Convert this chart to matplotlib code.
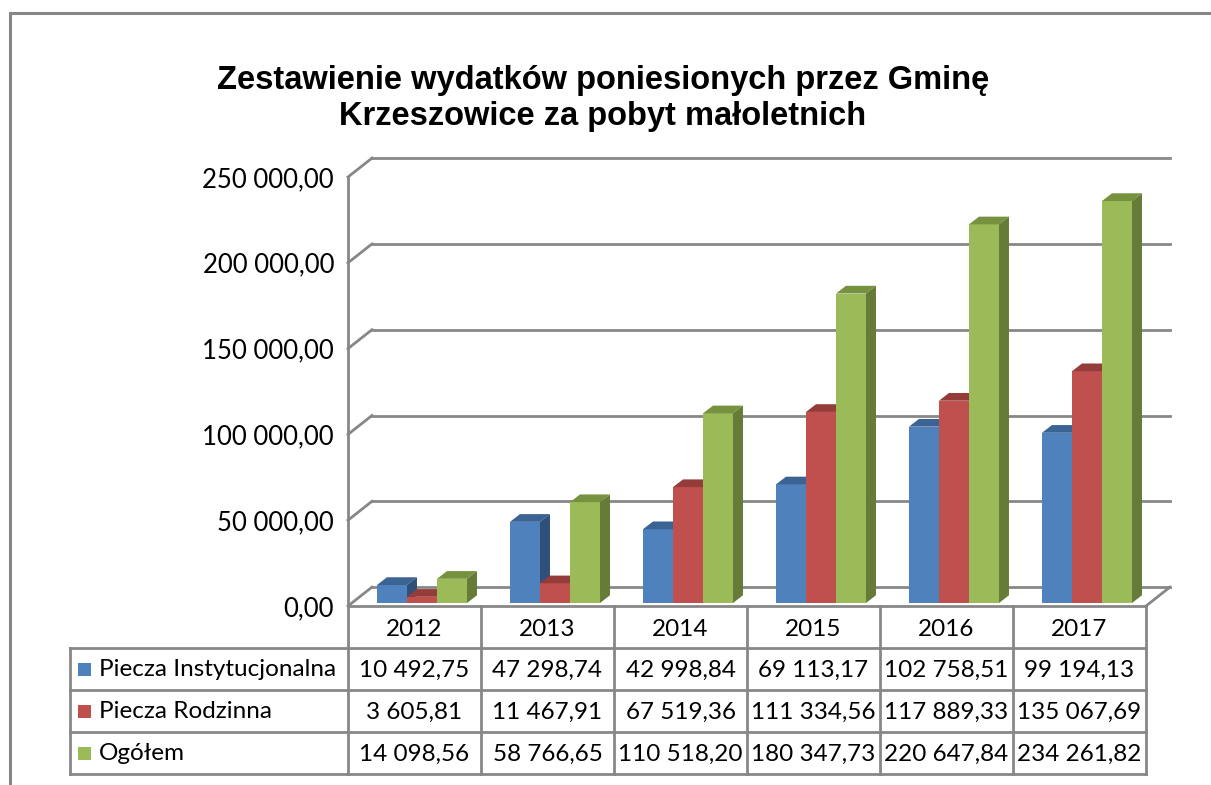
import matplotlib
matplotlib.use("Agg")
import matplotlib.pyplot as plt
from matplotlib import font_manager
from matplotlib.patches import Polygon, Rectangle

# data
years = ["2012", "2013", "2014", "2015", "2016", "2017"]
series_names = ["Piecza Instytucjonalna", "Piecza Rodzinna", "Ogółem"]
instytucjonalna = [10492.75, 47298.74, 42998.84, 69113.17, 102758.51, 99194.13]
rodzinna = [3605.81, 11467.91, 67519.36, 111334.56, 117889.33, 135067.69]
ogolem = [14098.56, 58766.65, 110518.20, 180347.73, 220647.84, 234261.82]
y_ticks = [0, 50000, 100000, 150000, 200000, 250000]

title_lines = ["Zestawienie wydatków poniesionych przez Gminę",
               "Krzeszowice za pobyt małoletnich"]

front_cols = ["#4F81BD", "#C0504D", "#9BBB59"]
top_cols = ["#3B6393", "#943C3A", "#77923F"]
side_cols = ["#2F5079", "#7E3230", "#657B37"]
grid_col = "#878787"

installed = {f.name for f in font_manager.fontManager.ttflist}
title_font = "Liberation Sans Narrow" if "Liberation Sans Narrow" in installed else "Liberation Sans"
body_font = "Lato"


def fmt(v, dec=2):
    s = f"{v:,.{dec}f}"
    return s.replace(",", " ").replace(".", ",")


W, H = 1211, 785
fig = plt.figure(figsize=(W / 100, H / 100), dpi=100, facecolor="white")

# background axes in pixel coords for frame + table
bg = fig.add_axes([0, 0, 1, 1])
bg.set_xlim(0, W)
bg.set_ylim(H, 0)
bg.axis("off")

# plot area geometry (pixels)
PL, PR, PT, PB = 348, 1146, 177, 606
ax = fig.add_axes([PL / W, (H - PB) / H, (PR - PL) / W, (PB - PT) / H])
ax.set_xlim(-0.5, 5.5)
ax.set_ylim(0, 250000)
for s in ax.spines.values():
    s.set_visible(False)
ax.set_xticks([])
ax.set_yticks(y_ticks)
ax.set_yticklabels([fmt(v) for v in y_ticks], fontsize=18.5, family=body_font)
ax.tick_params(axis="y", length=0, pad=10)
ax.patch.set_alpha(0)

DX, DY = 0.18, 11000      # back-wall offset
BY = 1750                 # bars set slightly behind the front edge
BW = 0.2256               # bar width
BDX, BDY = 0.075, 4500    # bar depth

# walls / gridlines
for v in y_ticks:
    ax.plot([-0.5 + DX, 5.5 + DX], [v + DY, v + DY], color=grid_col, lw=2, clip_on=False, zorder=1)
    ax.plot([-0.5, -0.5 + DX], [v, v + DY], color=grid_col, lw=2, clip_on=False, zorder=1)
ax.plot([-0.5, -0.5], [0, 250000], color=grid_col, lw=2, clip_on=False, zorder=1)
ax.plot([5.5, 5.5 + DX], [0, DY], color=grid_col, lw=2, clip_on=False, zorder=1)

# bars
series = [instytucjonalna, rodzinna, ogolem]
for i in range(len(years)):
    for k, vals in enumerate(series):
        v = vals[i]
        x0 = i - 0.282 + k * BW
        x1 = x0 + BW
        b = BY
        t = b + v
        z = 3 + k
        ax.add_patch(Polygon([(x0, b), (x1, b), (x1, t), (x0, t)], closed=True,
                             facecolor=front_cols[k], edgecolor="none", zorder=z, clip_on=False))
        ax.add_patch(Polygon([(x0, t), (x1, t), (x1 + BDX, t + BDY), (x0 + BDX, t + BDY)], closed=True,
                             facecolor=top_cols[k], edgecolor="none", zorder=z, clip_on=False))
        ax.add_patch(Polygon([(x1, b), (x1 + BDX, b + BDY), (x1 + BDX, t + BDY), (x1, t)], closed=True,
                             facecolor=side_cols[k], edgecolor="none", zorder=z, clip_on=False))

# outer frame
bg.plot([10, 10], [13, H], color=grid_col, lw=2.2)
bg.plot([10, W], [13, 13], color=grid_col, lw=2.2)

# title
for line, yy in zip(title_lines, [80, 117]):
    bg.text(603, yy, line, ha="center", va="center", fontsize=23.5,
            fontweight="bold", family=title_font)

# data table
TL = 70
col_w = (PR - PL) / len(years)
row_h = 42
rows_y = [PB + row_h * r for r in range(5)]  # 606, 648, 690, 732, 774
tkw = dict(color=grid_col, lw=2, zorder=5)
bg.plot([PL, PR], [rows_y[0], rows_y[0]], **tkw)
for r in range(1, 5):
    bg.plot([TL, PR], [rows_y[r], rows_y[r]], **tkw)
bg.plot([TL, TL], [rows_y[1], rows_y[4]], **tkw)
for c in range(len(years) + 1):
    x = PL + c * col_w
    bg.plot([x, x], [rows_y[0], rows_y[4]], **tkw)

TFS = 17.5
for c, yr in enumerate(years):
    bg.text(PL + (c + 0.5) * col_w, rows_y[0] + row_h / 2 + 2, yr, ha="center", va="center",
            fontsize=TFS, family=body_font)
for r, (name, vals) in enumerate(zip(series_names, series)):
    yc = rows_y[r + 1] + row_h / 2
    bg.add_patch(Rectangle((78, yc - 6.5), 13, 13, facecolor=front_cols[r], edgecolor="none"))
    bg.text(99, yc + 1, name, ha="left", va="center", fontsize=TFS, family=body_font)
    for c, v in enumerate(vals):
        bg.text(PL + (c + 0.5) * col_w, yc + 1, fmt(v), ha="center", va="center",
                fontsize=TFS, family=body_font)

fig.savefig("out.png", dpi=100, facecolor="white")
